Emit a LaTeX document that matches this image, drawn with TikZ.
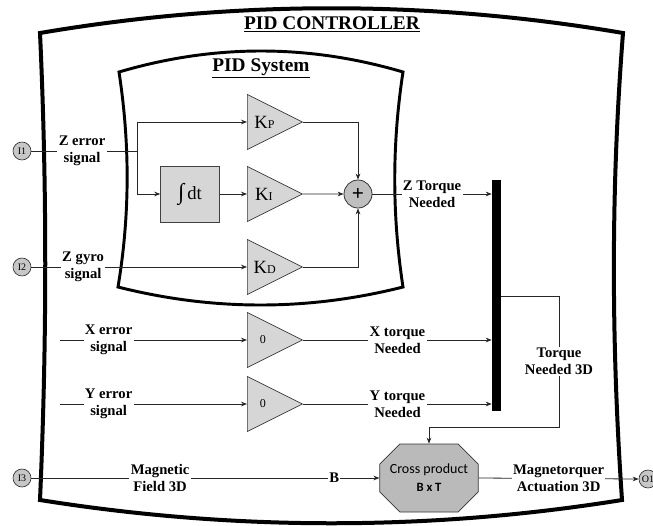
\documentclass[tikz,border=0pt]{standalone}
\usepackage{fontspec}
\setmainfont{Liberation Serif}
\newfontfamily\crossfont{Carlito}
\usetikzlibrary{
  arrows.meta,
  positioning,
  calc,
  shapes.geometric,
  shapes.misc
}

\begin{document}
\begin{tikzpicture}[
      x=0.75pt, y=-0.75pt,
      >={Stealth[length=4.5pt,width=3.5pt]},
      conn/.style={draw=black!85, line width=0.6pt},
      gain/.style={isosceles triangle, isosceles triangle stretches,
                   shape border rotate=0, draw=black!80, fill=black!16,
                   minimum width=41.25pt, minimum height=41.25pt, inner sep=0pt,
                   line width=0.5pt, font=\fontsize{14}{14}\selectfont},
      zerogain/.style={gain, font=\fontsize{9}{9}\selectfont},
      intbox/.style={draw=black!75, fill=black!16, line width=0.6pt,
                     minimum width=44pt, minimum height=42pt, inner sep=0pt,
                     font=\fontsize{14}{14}\selectfont},
      sumnode/.style={circle, draw=black!80, fill=black!25, line width=0.6pt,
                      minimum size=21pt, inner sep=0pt,
                      font=\bfseries\fontsize{16}{16}\selectfont},
      port/.style={circle, draw=black!80, fill=black!22, line width=0.5pt,
                   minimum size=13.5pt, inner sep=0pt,
                   font=\fontsize{7.5}{7.5}\selectfont},
      lbl/.style={fill=white, inner sep=1pt, align=center,
                  font=\bfseries\fontsize{11}{12.5}\selectfont},
      title/.style={inner sep=0pt, anchor=base,
                    font=\bfseries\fontsize{14.5}{16}\selectfont},
      crossbox/.style={chamfered rectangle, chamfered rectangle xsep=7.5pt,
                       chamfered rectangle ysep=7.5pt, draw=black!80, fill=black!27,
                       line width=0.6pt, minimum width=69pt, minimum height=51pt,
                       inner sep=0pt, align=center,
                       font=\crossfont\fontsize{10.5}{13.5}\selectfont},
      border/.style={draw=black, line join=miter}
  ]
      \clip (0,0) rectangle (653,525);

      % Outer and inner frames
      \draw[border, line width=3pt] (40,33) .. controls (234,0) and (429,0) .. (623,33)
          .. controls (611,186) and (611,339) .. (622,500)
          .. controls (429,531) and (234,531) .. (40,500)
          .. controls (47,339) and (47,186) .. cycle;
      \draw[border, line width=2.2pt] (119,72) .. controls (214,44) and (308,44) .. (403,72)
          .. controls (392,144) and (392,215) .. (403,287)
          .. controls (308,311) and (213,311) .. (118,287)
          .. controls (130,215) and (130,144) .. cycle;

      \node[title] (ctrltitle) at (332,29) {\underline{PID CONTROLLER}};
      \node[title] (systitle) at (261,71) {\underline{PID System}};

      % Ports
      \node[port] (i1) at (22,151) {I1};
      \node[port] (i2) at (22,267) {I2};
      \node[port] (i3) at (22,478) {I3};
      \node[port] (o1) at (648,479) {O1};

      % Blocks
      \node[gain, anchor=west] (kp) at (247,122) {K{\fontsize{9}{9}\selectfont P}};
      \node[intbox] (integ) at (190,194) {{\fontsize{17}{17}\selectfont ∫}\,dt};
      \node[gain, anchor=west] (ki) at (247,194) {K{\fontsize{9}{9}\selectfont I}};
      \node[gain, anchor=west] (kd) at (247,267) {K{\fontsize{9}{9}\selectfont D}};
      \node[zerogain, anchor=west] (xgain) at (247,340) {0};
      \node[zerogain, anchor=west] (ygain) at (247,404) {0};
      \node[sumnode] (sum) at (358,194) {+};
      \node[fill=black, minimum width=6.75pt, minimum height=173pt,
            inner sep=0pt] (bus) at (496.5,295.5) {};
      \node[crossbox] (cross) at (429,478)
          {Cross product\\{\bfseries\fontsize{9.5}{11}\selectfont B x T}};

      \coordinate (split) at (137,151);
      \coordinate (xin) at (60,340);
      \coordinate (yin) at (60,404);
      \coordinate (tq1) at (559,296);
      \coordinate (tq2) at (559,427);

      % Connectors
      \draw[conn] (i1) -- node[lbl, pos=0.48] {Z error\\signal} (split);
      \draw[conn, ->] (split) |- (kp.west);
      \draw[conn, ->] (split) |- (integ.west);
      \draw[conn, ->] (integ) -- (ki.west);
      \draw[conn, ->] (i2) -- node[lbl, pos=0.24] {Z gyro\\signal} (kd.west);
      \draw[conn, ->] (kp.east) -| (sum.north);
      \draw[conn, ->] (ki.east) -- (sum.west);
      \draw[conn, ->] (kd.east) -| (sum.south);
      \draw[conn, ->] (sum) -- node[lbl, pos=0.5] {Z Torque\\Needed} (bus.west |- sum);

      \draw[conn, ->] (xin) -- node[lbl, pos=0.26] {X error\\signal} (xgain.west);
      \draw[conn, ->] (yin) -- node[lbl, pos=0.26] {Y error\\signal} (ygain.west);
      \draw[conn, ->] (xgain.east) -- node[lbl, pos=0.5] {X torque\\Needed} (bus.west |- xgain.east);
      \draw[conn, ->] (ygain.east) -- node[lbl, pos=0.5] {Y torque\\Needed} (bus.west |- ygain.east);

      \draw[conn, ->] (bus.east |- tq1) -- (tq1)
          -- node[lbl, pos=0.5] {Torque\\Needed 3D} (tq2) -| (cross.north);
      \draw[conn, ->] (i3) -- node[lbl, pos=0.37] {Magnetic\\Field 3D}
          node[lbl, pos=0.87] {B} (cross.west);
      \draw[conn, ->] (cross.east) -- node[lbl, pos=0.5] {Magnetorquer\\Actuation 3D} (o1.west);
  \end{tikzpicture}
\end{document}
